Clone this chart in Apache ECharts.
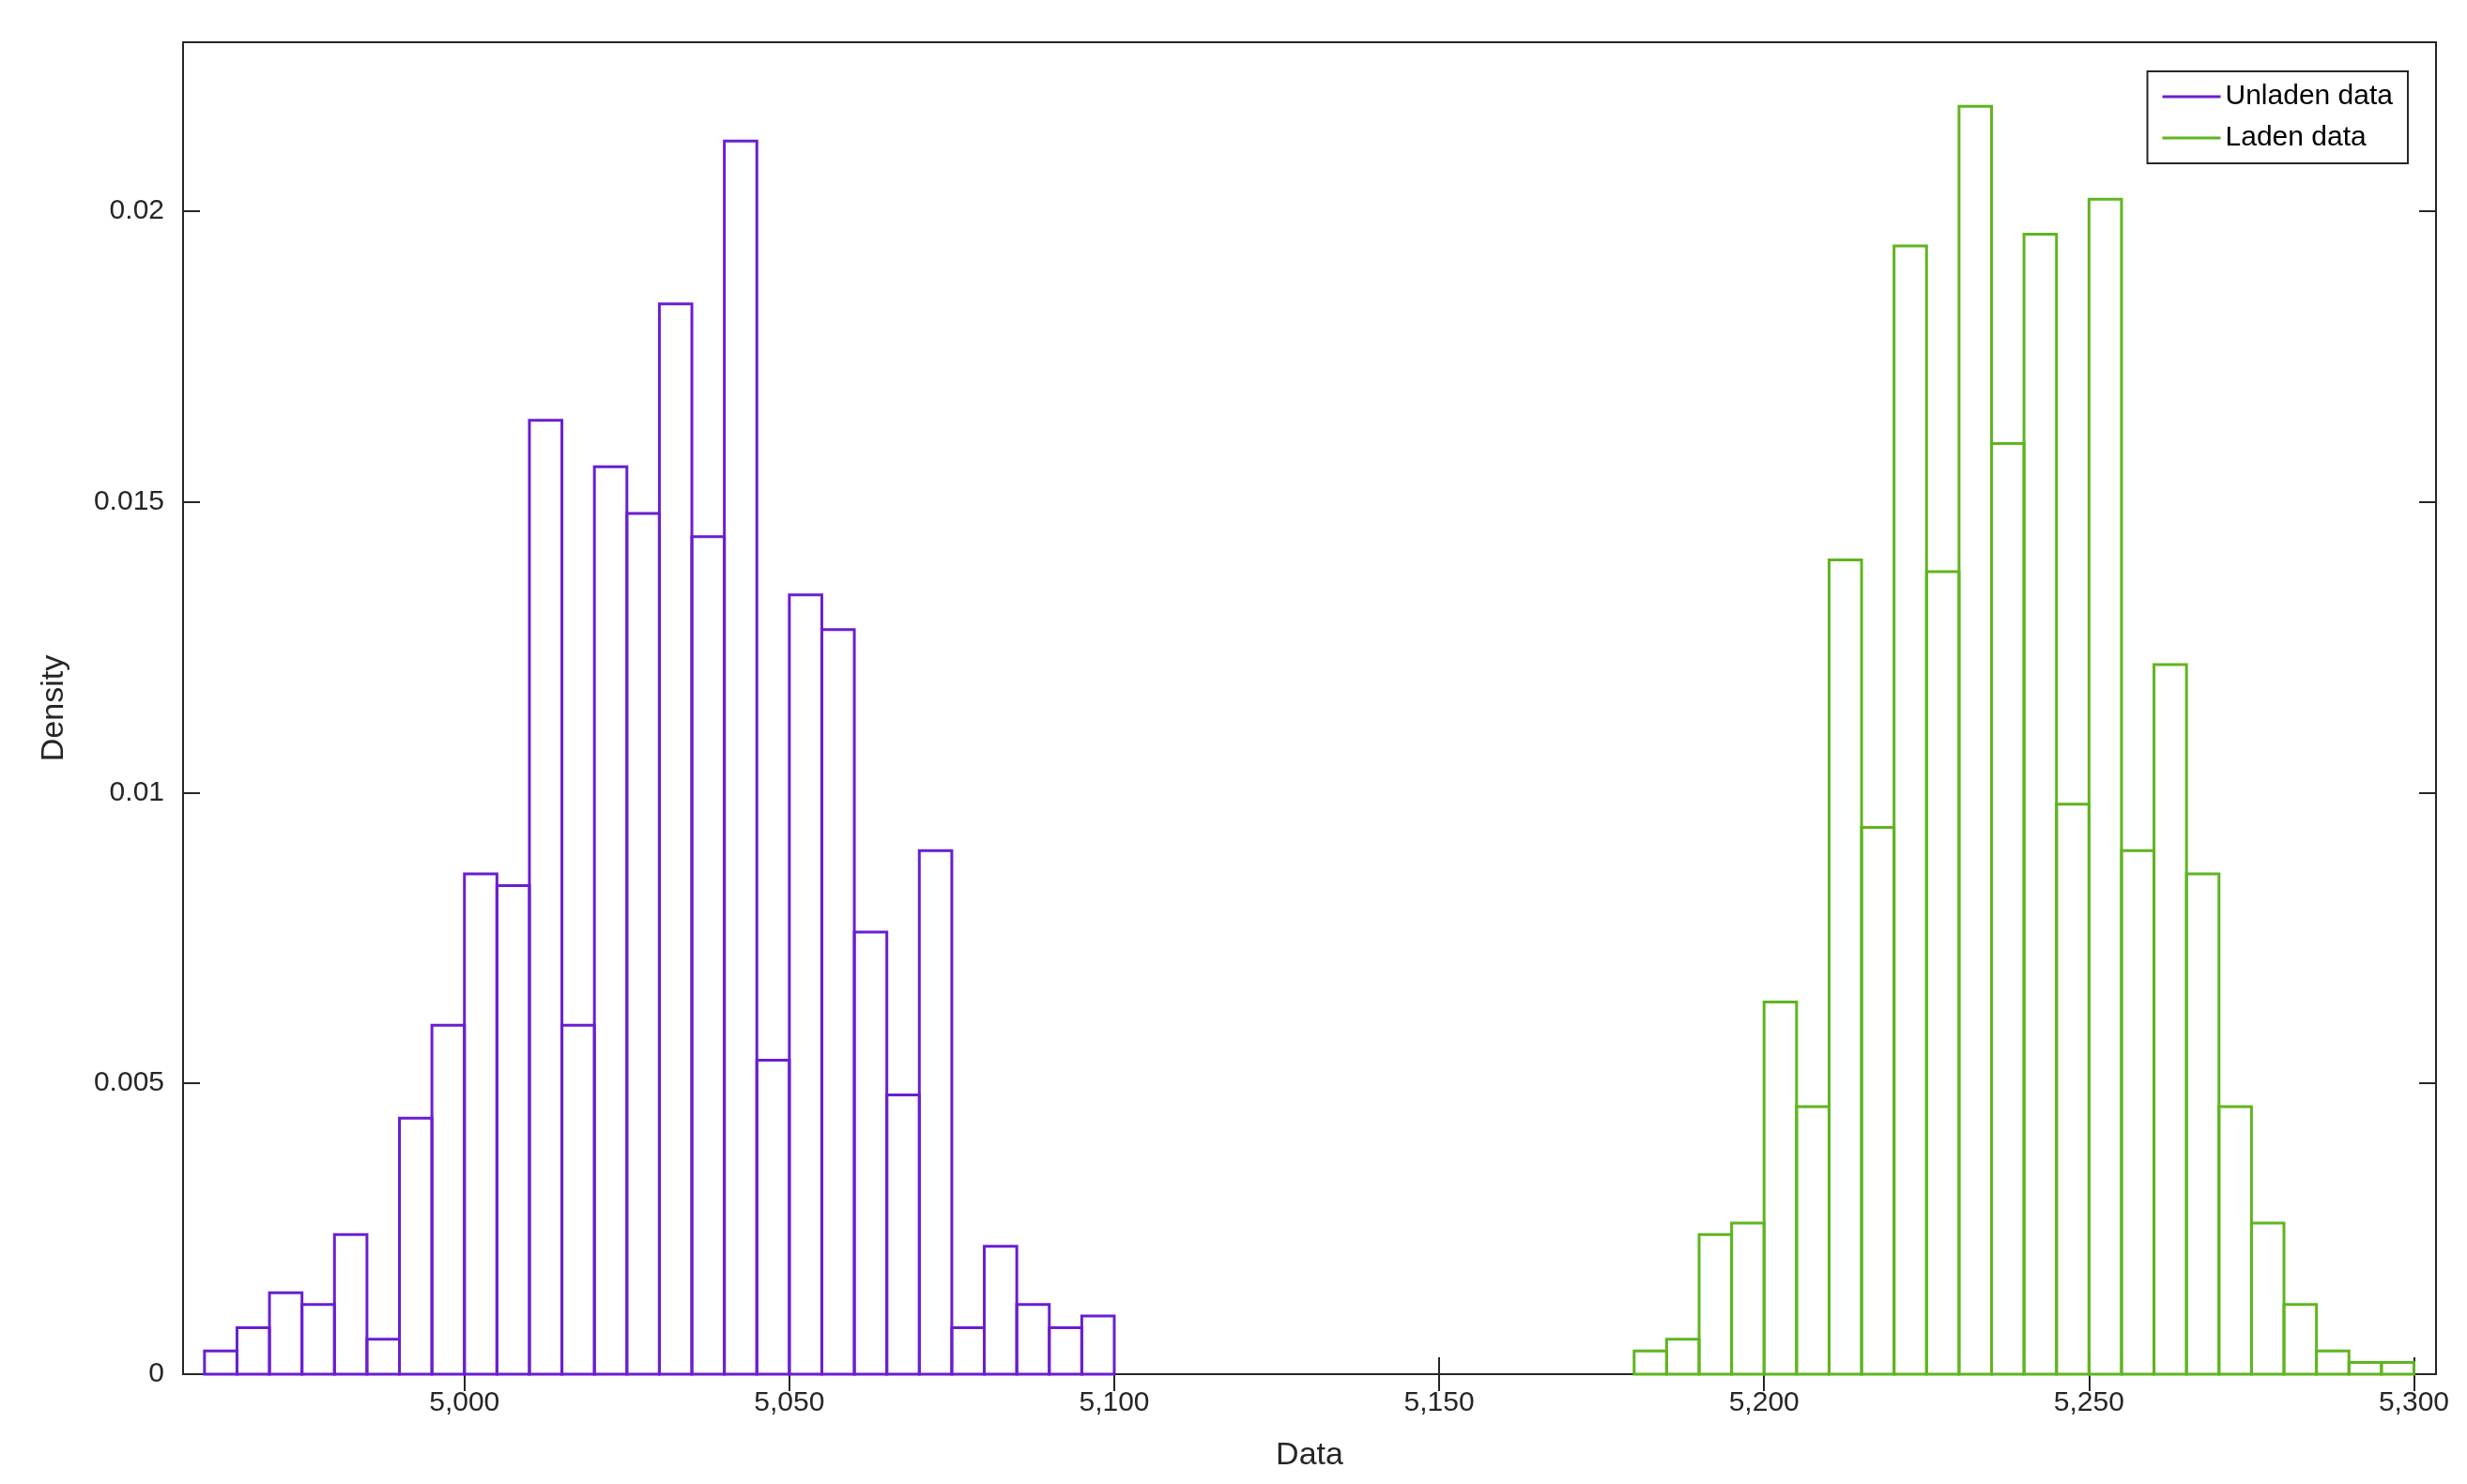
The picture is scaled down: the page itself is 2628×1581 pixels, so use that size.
<!DOCTYPE html>
<html><head><meta charset="utf-8">
<script src="https://cdn.jsdelivr.net/npm/echarts@6/dist/echarts.min.js"></script>
<style>html,body{margin:0;background:#fff}#chart{width:2628px;height:1581px}</style>
</head><body><div id="chart"></div>
<script>
// bin edges start + width 5
var binWidth = 5;
var unladenStart = 4960;
var unladenDensity = [0.0004, 0.0008, 0.0014, 0.0012, 0.0024, 0.0006, 0.0044, 0.006, 0.0086, 0.0084,
    0.0164, 0.006, 0.0156, 0.0148, 0.0184, 0.0144, 0.0212, 0.0054, 0.0134, 0.0128,
    0.0076, 0.0048, 0.009, 0.0008, 0.0022, 0.0012, 0.0008, 0.001];
var ladenStart = 5180;
var ladenDensity = [0.0004, 0.0006, 0.0024, 0.0026, 0.0064, 0.0046, 0.014, 0.0094, 0.0194, 0.0138,
    0.0218, 0.016, 0.0196, 0.0098, 0.0202, 0.009, 0.0122, 0.0086, 0.0046, 0.0026,
    0.0012, 0.0004, 0.0002, 0.0002];
var xTicks = [5000, 5050, 5100, 5150, 5200, 5250, 5300];

function toBins(start, vals) {
    var out = [];
    for (var i = 0; i < vals.length; i++) out.push([start + i * binWidth, start + (i + 1) * binWidth, vals[i]]);
    return out;
}

function renderBar(params, api) {
    var p0 = api.coord([api.value(0), api.value(2)]);
    var p1 = api.coord([api.value(1), 0]);
    return {
        type: 'rect',
        shape: {x: p0[0], y: p0[1], width: p1[0] - p0[0], height: p1[1] - p0[1]},
        style: {fill: 'none', stroke: api.visual('color'), lineWidth: 3}
    };
}

var chart = echarts.init(document.getElementById('chart'));
var axisFont = {fontFamily: 'Helvetica, Liberation Sans, Arial', fontSize: 30, color: '#262626'};
chart.setOption({
    animation: false,
    grid: {left: 195, right: 33, top: 45, bottom: 117, show: true, borderColor: '#262626', borderWidth: 2},
    legend: {
        orient: 'vertical', right: 63, top: 76, padding: [12, 16],
        borderColor: '#262626', borderWidth: 2, backgroundColor: '#fff',
        icon: 'rect', itemWidth: 62, itemHeight: 3, itemGap: 14,
        textStyle: {fontFamily: 'Helvetica, Liberation Sans, Arial', fontSize: 30, color: '#000'},
        data: ['Unladen data', 'Laden data']
    },
    xAxis: [{
        type: 'value', min: 4956.7, max: 5303.4,
        name: 'Data', nameLocation: 'middle', nameGap: 70,
        nameTextStyle: {fontFamily: 'Helvetica, Liberation Sans, Arial', fontSize: 34, color: '#262626'},
        axisLine: {show: false}, splitLine: {show: false},
        axisTick: {inside: true, length: 18, customValues: xTicks, lineStyle: {color: '#262626', width: 2}},
        axisLabel: Object.assign({customValues: xTicks, margin: 16}, axisFont)
    }, {
        type: 'value', position: 'top', min: 4956.7, max: 5303.4,
        axisLine: {show: false}, splitLine: {show: false}, axisLabel: {show: false},
        axisTick: {inside: true, length: 18, customValues: xTicks, lineStyle: {color: '#262626', width: 2}}
    }],
    yAxis: [{
        type: 'value', min: 0, max: 0.0229, interval: 0.005,
        name: 'Density', nameLocation: 'middle', nameGap: 120,
        nameTextStyle: {fontFamily: 'Helvetica, Liberation Sans, Arial', fontSize: 34, color: '#262626'},
        axisLine: {show: false}, splitLine: {show: false},
        axisTick: {inside: true, length: 18, lineStyle: {color: '#262626', width: 2}},
        axisLabel: Object.assign({margin: 20, showMaxLabel: false,
            formatter: function (v) { return v === 0 ? '0' : String(+v.toFixed(3)); }}, axisFont)
    }, {
        type: 'value', position: 'right', min: 0, max: 0.0229, interval: 0.005,
        axisLine: {show: false}, splitLine: {show: false}, axisLabel: {show: false},
        axisTick: {inside: true, length: 18, lineStyle: {color: '#262626', width: 2}}
    }],
    series: [{
        name: 'Unladen data', type: 'custom', renderItem: renderBar,
        itemStyle: {color: '#6A1FD0'}, encode: {x: [0, 1], y: 2},
        data: toBins(unladenStart, unladenDensity)
    }, {
        name: 'Laden data', type: 'custom', renderItem: renderBar,
        itemStyle: {color: '#5FB51F'}, encode: {x: [0, 1], y: 2},
        data: toBins(ladenStart, ladenDensity)
    }]
});
</script></body></html>
